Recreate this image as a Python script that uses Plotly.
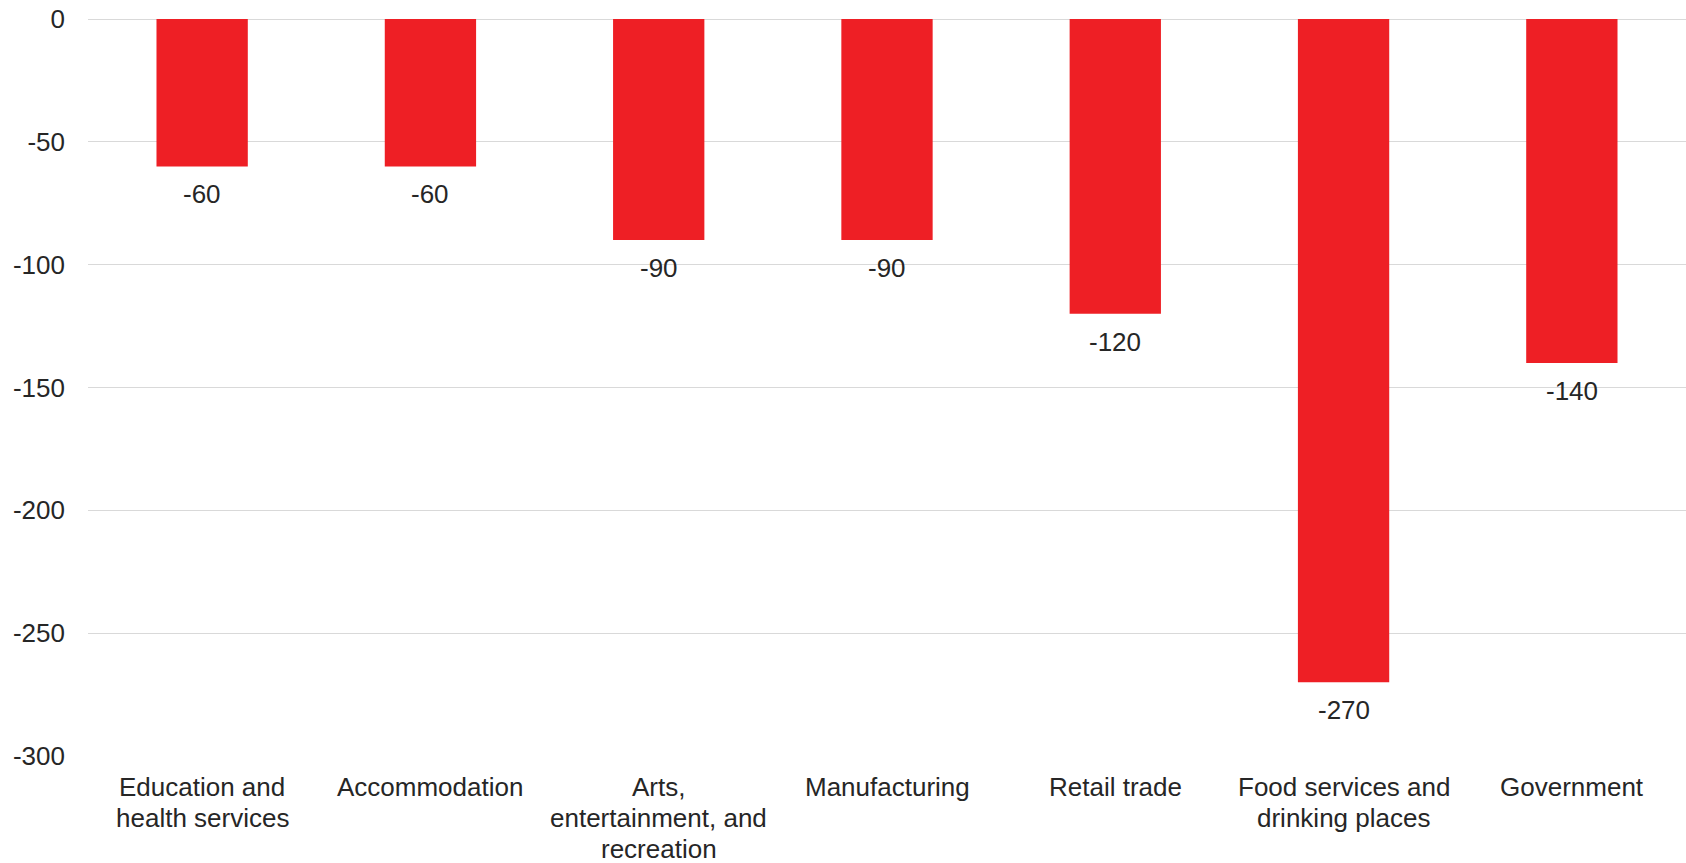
import plotly.graph_objects as go

# Change in employment by industry (thousands)
industries = [
    "Education and<br>health services",
    "Accommodation",
    "Arts,<br>entertainment, and<br>recreation",
    "Manufacturing",
    "Retail trade",
    "Food services and<br>drinking places",
    "Government",
]
job_change = [-60, -60, -90, -90, -120, -270, -140]
y_ticks = [0, -50, -100, -150, -200, -250, -300]

BAR_RED = "#EE1F25"
TEXT = "#262626"
GRID = "#D9D9D9"
FONT = "Liberation Sans, Arial, sans-serif"
LABEL_SIZE = 26
LINE_STEP = 31  # px between category label lines

fig = go.Figure(
    go.Bar(
        x=industries,
        y=job_change,
        marker=dict(color=BAR_RED, line=dict(width=0)),
        hoverinfo="x+y",
    )
)

# Value labels just below the end of each bar
for cat, val in zip(industries, job_change):
    fig.add_annotation(
        x=cat,
        y=val,
        text=str(val),
        showarrow=False,
        yanchor="middle",
        xanchor="center",
        yshift=-28,
        font=dict(family=FONT, size=LABEL_SIZE, color=TEXT),
    )

# Category labels under the axis, one line at a time for tight line spacing
for cat in industries:
    for i, line in enumerate(cat.split("<br>")):
        fig.add_annotation(
            x=cat,
            xref="x",
            y=0,
            yref="paper",
            text=line,
            showarrow=False,
            xanchor="center",
            yanchor="middle",
            yshift=-(LINE_STEP + i * LINE_STEP),
            font=dict(family=FONT, size=LABEL_SIZE, color=TEXT),
        )

fig.update_layout(
    width=1686,
    height=863,
    margin=dict(l=88, r=0, t=19, b=107, autoexpand=False),
    paper_bgcolor="white",
    plot_bgcolor="white",
    bargap=0.6,
    showlegend=False,
    font=dict(family=FONT, size=LABEL_SIZE, color=TEXT),
)

fig.update_xaxes(
    automargin=False,
    showgrid=False,
    showline=False,
    ticks="",
    showticklabels=False,
)

fig.update_yaxes(
    automargin=False,
    range=[-300, 0],
    tickvals=y_ticks,
    ticktext=[str(v) for v in y_ticks],
    showgrid=True,
    gridcolor=GRID,
    gridwidth=1,
    zeroline=True,
    zerolinecolor=GRID,
    zerolinewidth=1,
    showline=False,
    ticks="",
    tickfont=dict(family=FONT, size=LABEL_SIZE, color=TEXT),
    ticklabelstandoff=22,
)

fig.write_html("out.html")
